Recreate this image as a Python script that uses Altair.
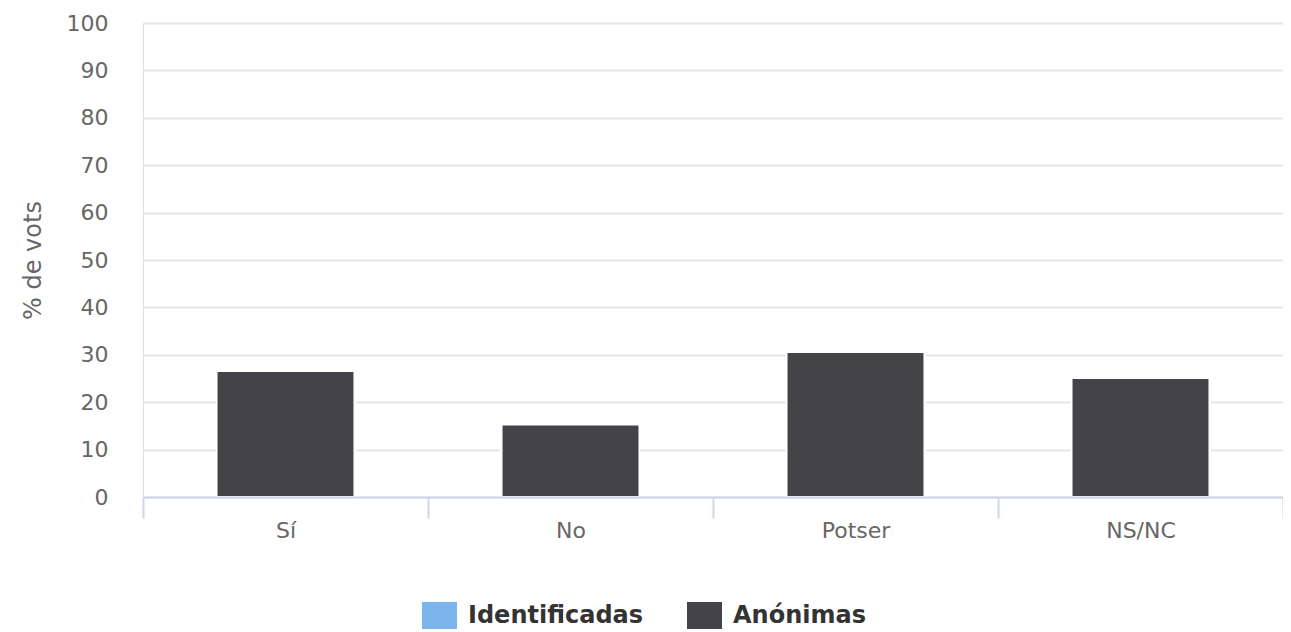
import altair as alt
import pandas as pd

categories = ["Sí", "No", "Potser", "NS/NC"]
anonimas = [26.6, 15.3, 30.6, 25.1]
series_names = ["Identificadas", "Anónimas"]
series_colors = ["#7cb5ec", "#434348"]
y_ticks = list(range(0, 101, 10))

df = pd.DataFrame({"cat": categories, "value": anonimas, "serie": ["Anónimas"] * len(categories)})

FONT = "DejaVu Sans"

chart = alt.Chart(df).mark_bar(
    width={"band": 0.484}, stroke="white", strokeWidth=2
).encode(
    x=alt.X(
        "cat:N", sort=categories,
        scale=alt.Scale(paddingInner=0, paddingOuter=0),
        axis=alt.Axis(
            title=None, labelAngle=0, labelFontSize=22, labelColor="#666666",
            labelFont=FONT, labelPadding=2, domainColor="#ccd6eb", domainWidth=2,
            tickColor="#ccd6eb", tickWidth=2, tickSize=21, tickBand="extent",
            grid=False, zindex=1,
        ),
    ),
    y=alt.Y(
        "value:Q",
        scale=alt.Scale(domain=[0, 100], nice=False),
        axis=alt.Axis(
            values=y_ticks, title="% de vots", titleFontSize=24, titleColor="#666666",
            titleFont=FONT, titleFontWeight="normal", titlePadding=21,
            labelFontSize=22, labelColor="#666666", labelFont=FONT, labelPadding=35,
            domain=False, ticks=False, grid=True, gridColor="#e6e6e6", gridWidth=2,
        ),
    ),
    color=alt.Color(
        "serie:N",
        scale=alt.Scale(domain=series_names, range=series_colors),
        legend=alt.Legend(
            title=None, orient="none", legendX=279, legendY=575, direction="horizontal",
            labelFontSize=24, labelFontWeight="bold", labelColor="#333333", labelFont=FONT,
            labelLimit=500,
            symbolType="M-1,-0.77L1,-0.77L1,0.77L-1,0.77Z", symbolSize=1225,
            symbolStrokeWidth=0, symbolOpacity=1, labelOffset=11, columnPadding=43,
        ),
    ),
).properties(
    width=1140, height=474,
    autosize=alt.AutoSizeParams(type="none"),
    padding={"left": 135, "top": 15, "right": 0, "bottom": 137},
).configure_view(stroke=None).configure(background="white")

chart.save("out.html", embed_options={"renderer": "svg", "actions": False})
